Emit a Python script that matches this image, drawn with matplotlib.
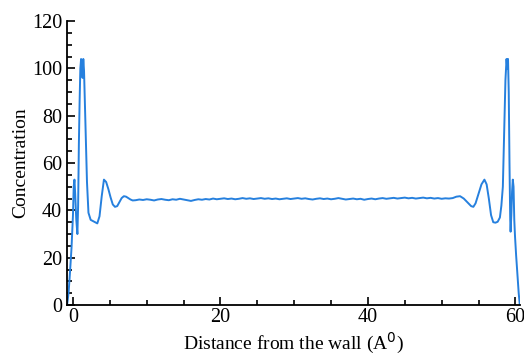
import matplotlib.pyplot as plt
from matplotlib.ticker import MultipleLocator

# left wall region
x_left = [-0.8, -0.6, -0.4, -0.2, 0.0, 0.1, 0.2, 0.3, 0.45, 0.6, 0.7, 0.8, 0.9,
          1.0, 1.1, 1.2, 1.3, 1.4, 1.5, 1.7, 1.9, 2.1, 2.4, 2.7, 3.0, 3.3, 3.6,
          3.9, 4.2, 4.5, 4.8, 5.1, 5.4, 5.7, 6.0, 6.3, 6.6, 6.9, 7.2, 7.5, 7.8, 8.1]
y_left = [0, 5, 14, 24, 38, 50, 53, 47, 36, 30, 42, 68, 86,
          100, 104, 103, 96, 104, 99, 76, 52, 39, 36, 35.5, 35, 34.5, 37.5,
          46, 53, 52, 49, 45.5, 42.5, 41.5, 41.8, 43.5, 45.2, 46, 45.8, 45.2, 44.6, 44.2]

# bulk region
x_mid = [8.5, 9.0, 9.5, 10.0, 10.5, 11.0, 11.5, 12.0, 12.5, 13.0, 13.5, 14.0, 14.5,
         15.0, 15.5, 16.0, 16.5, 17.0, 17.5, 18.0, 18.5, 19.0, 19.5, 20.0, 20.5,
         21.0, 21.5, 22.0, 22.5, 23.0, 23.5, 24.0, 24.5, 25.0, 25.5, 26.0, 26.5,
         27.0, 27.5, 28.0, 28.5, 29.0, 29.5, 30.0, 30.5, 31.0, 31.5, 32.0, 32.5,
         33.0, 33.5, 34.0, 34.5, 35.0, 35.5, 36.0, 36.5, 37.0, 37.5, 38.0, 38.5,
         39.0, 39.5, 40.0, 40.5, 41.0, 41.5, 42.0, 42.5, 43.0, 43.5, 44.0, 44.5,
         45.0, 45.5, 46.0, 46.5, 47.0, 47.5, 48.0, 48.5, 49.0, 49.5, 50.0, 50.5, 51.0]
y_mid = [44.3, 44.6, 44.4, 44.7, 44.5, 44.2, 44.6, 44.8, 44.5, 44.3, 44.7, 44.5, 44.9,
         44.6, 44.3, 44.0, 44.4, 44.7, 44.5, 44.8, 44.6, 45.0, 44.7, 44.9, 45.1,
         44.8, 45.0, 44.7, 44.9, 45.2, 44.9, 45.1, 44.8, 45.0, 45.2, 44.9, 45.1,
         44.8, 45.0, 44.7, 44.9, 45.1, 44.8, 45.0, 45.2, 44.9, 45.1, 44.8, 44.6,
         44.9, 45.1, 44.8, 45.0, 44.7, 44.9, 45.2, 44.9, 44.6, 44.8, 45.0, 44.7,
         44.9, 44.5, 44.8, 45.0, 44.7, 45.0, 45.2, 44.9, 45.1, 45.3, 45.0, 45.2,
         45.4, 45.1, 45.3, 45.0, 45.2, 45.4, 45.1, 45.3, 45.0, 45.2, 44.9, 45.1, 45.0]

# right wall region
x_right = [51.5, 52.0, 52.5, 53.0, 53.5, 54.0, 54.3, 54.6, 55.0, 55.4, 55.8, 56.1,
           56.4, 56.7, 57.0, 57.3, 57.6, 57.9, 58.1, 58.3, 58.5, 58.65, 58.8, 58.9,
           59.0, 59.1, 59.2, 59.3, 59.35, 59.45, 59.55, 59.65, 59.75, 59.85, 59.95,
           60.1, 60.3, 60.45, 60.6]
y_right = [45.2, 45.8, 46.0, 45.0, 43.4, 41.8, 41.5, 43.0, 47.0, 51.0, 53.0, 51.0,
           45.0, 38.0, 35.0, 34.8, 35.2, 37.0, 42.0, 50.0, 75.0, 95.0, 104.0, 100.0,
           104.0, 90.0, 60.0, 36.0, 31.0, 38.0, 48.0, 53.0, 50.0, 36.0, 29.0,
           21.0, 12.0, 5.0, 0.0]

x = x_left + x_mid + x_right
y = y_left + y_mid + y_right

plt.rcParams['font.family'] = 'Liberation Serif'

fig = plt.figure(figsize=(5.24, 3.58), dpi=100)
ax = fig.add_axes([0.128, 0.148, 0.864, 0.793])
ax.plot(x, y, color='#2680de', linewidth=1.4)

ax.set_xlim(-0.8, 60.6)
ax.set_ylim(0, 120)
ax.xaxis.set_major_locator(MultipleLocator(20))
ax.xaxis.set_minor_locator(MultipleLocator(5))
ax.yaxis.set_major_locator(MultipleLocator(20))
ax.yaxis.set_minor_locator(MultipleLocator(5))
ax.tick_params(which='both', direction='in', width=1.2, labelsize=14.5)
ax.tick_params(which='major', length=6)
ax.tick_params(which='minor', length=3.5)
ax.tick_params(axis='x', pad=2)
ax.spines['top'].set_visible(False)
ax.spines['right'].set_visible(False)
ax.spines['left'].set_linewidth(1.3)
ax.spines['bottom'].set_linewidth(1.3)

ax.set_xlabel('Distance from the wall (A$^0$)', fontsize=14, labelpad=3)
ax.set_ylabel('Concentration', fontsize=14, labelpad=2)

fig.savefig('out.png', dpi=100)
